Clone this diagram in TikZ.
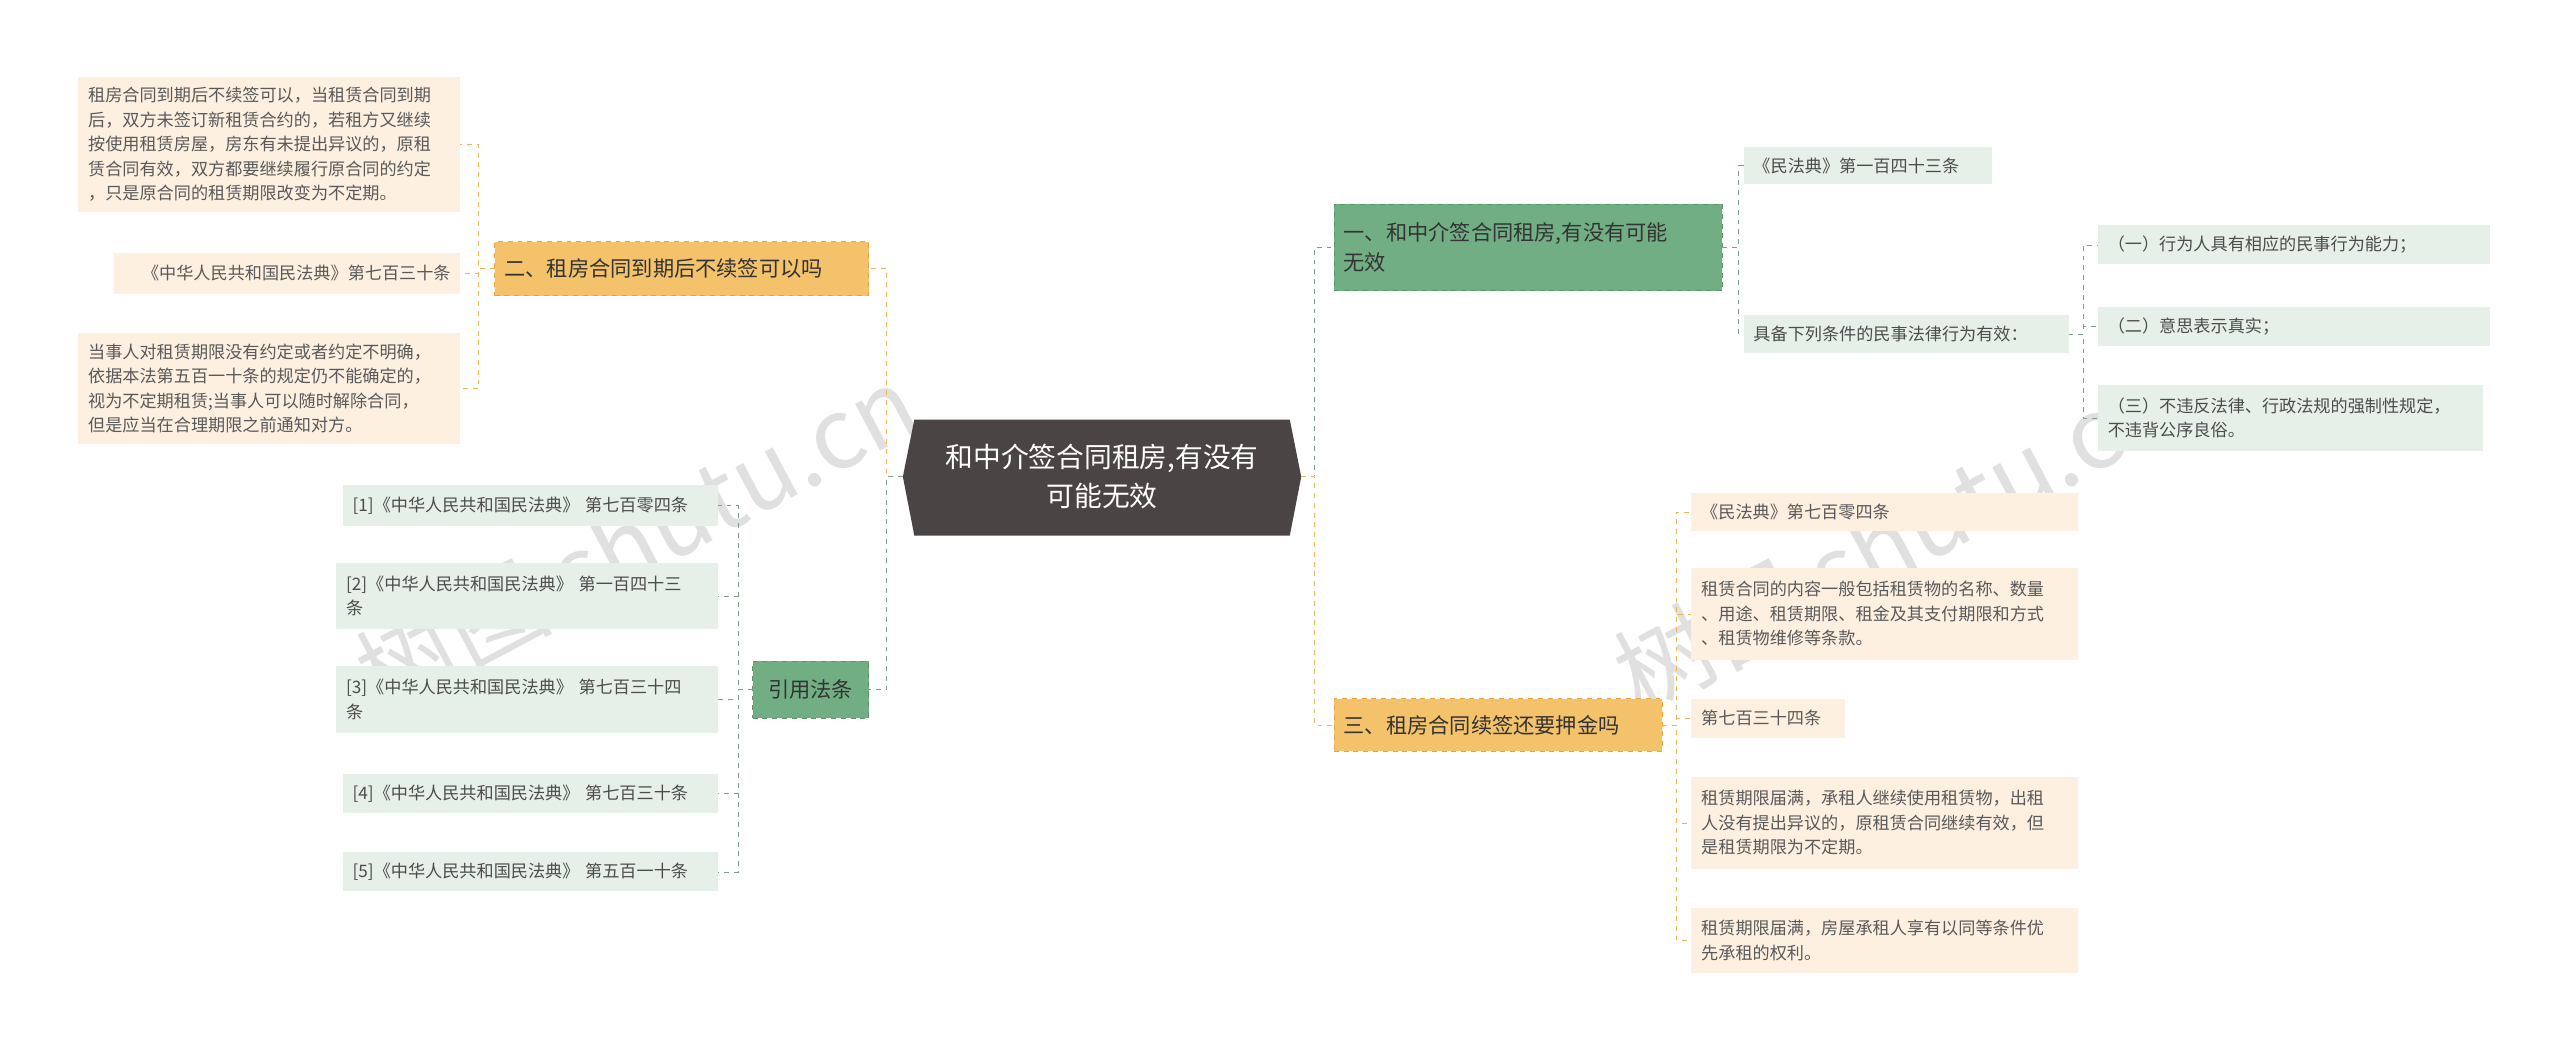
\documentclass[tikz,border=0pt]{standalone}
\usepackage{fontspec}
\setmainfont{Noto Sans CJK SC}
\usetikzlibrary{calc}
\definecolor{cdark}{HTML}{4A4544}
\definecolor{cgreen}{HTML}{72AE84}
\definecolor{cgreenb}{HTML}{5A946B}
\definecolor{corange}{HTML}{F4C26A}
\definecolor{coranb}{HTML}{E8A33D}
\definecolor{lgreen}{HTML}{E6F0E9}
\definecolor{lorange}{HTML}{FDF0E1}
\definecolor{lngreen}{HTML}{7F9F8A}
\definecolor{lnorange}{HTML}{F0B457}
\tikzset{
 box/.style={anchor=north west,inner sep=0pt,outer sep=0pt,font=\fontsize{10.5}{15}\selectfont,text=black!70},
 gbranch/.style={box,fill=cgreen,draw=cgreenb,dashed,font=\fontsize{13}{18}\selectfont,text=black!80},
 obranch/.style={box,fill=corange,draw=coranb,dashed,font=\fontsize{13}{18}\selectfont,text=black!80},
 gleaf/.style={box,fill=lgreen},
 oleaf/.style={box,fill=lorange,text=black!65},
 gline/.style={draw=lngreen,dashed,thin},
 oline/.style={draw=lnorange,dashed,thin},
}
\newcommand{\bx}[8]{% style,name,x,y,w,h,align,text
 \node[#1,minimum width=#5pt,minimum height=#6pt,text width=#5pt-12pt,align=#7] (#2) at (#3,#4) {#8};}
\begin{document}
\begin{tikzpicture}[x=1pt,y=-1pt]
\useasboundingbox (0,0) rectangle (1568,643);
% watermark
\node[rotate=28,text=black!12,font=\fontsize{60}{60}\selectfont] at (390,330) {树图 shutu.cn};
\node[rotate=28,text=black!12,font=\fontsize{60}{60}\selectfont] at (1160,330) {树图 shutu.cn};
% center
\fill[cdark] (553,292)--(560,257)--(790,257)--(797,292)--(790,328)--(560,328)--cycle;
\node[text=white,align=center,font=\fontsize{17}{24}\selectfont] (c) at (675,292) {和中介签合同租房,有没有\\可能无效};
\coordinate (cE) at (797,292); \coordinate (cW) at (553,292);
% right branch 1
\bx{gbranch}{r1}{817}{125}{238}{53}{left}{一、和中介签合同租房,有没有可能\\无效}
\bx{gleaf}{r1a}{1068}{90}{152}{23}{left}{《民法典》第一百四十三条}
\bx{gleaf}{r1b}{1068}{193}{199}{23}{left}{具备下列条件的民事法律行为有效：}
\bx{gleaf}{r1b1}{1285}{138}{240}{24}{left}{（一）行为人具有相应的民事行为能力；}
\bx{gleaf}{r1b2}{1285}{188}{240}{24}{left}{（二）意思表示真实；}
\bx{gleaf}{r1b3}{1285}{236}{236}{40}{left}{（三）不违反法律、行政法规的强制性规定，\\不违背公序良俗。}
% right branch 2
\bx{obranch}{r2}{817}{428}{201}{32}{left}{三、租房合同续签还要押金吗}
\bx{oleaf}{r2a}{1036}{302}{237}{23}{left}{《民法典》第七百零四条}
\bx{oleaf}{r2b}{1036}{348}{237}{56}{left}{租赁合同的内容一般包括租赁物的名称、数量\\、用途、租赁期限、租金及其支付期限和方式\\、租赁物维修等条款。}
\bx{oleaf}{r2c}{1036}{428}{94}{24}{left}{第七百三十四条}
\bx{oleaf}{r2d}{1036}{476}{237}{56}{left}{租赁期限届满，承租人继续使用租赁物，出租\\人没有提出异议的，原租赁合同继续有效，但\\是租赁期限为不定期。}
\bx{oleaf}{r2e}{1036}{556}{237}{40}{left}{租赁期限届满，房屋承租人享有以同等条件优\\先承租的权利。}
% left branch 1
\bx{obranch}{l1}{303}{148}{229}{33}{left}{二、租房合同到期后不续签可以吗}
\bx{oleaf}{l1a}{48}{47}{234}{83}{left}{租房合同到期后不续签可以，当租赁合同到期\\后，双方未签订新租赁合约的，若租方又继续\\按使用租赁房屋，房东有未提出异议的，原租\\赁合同有效，双方都要继续履行原合同的约定\\，只是原合同的租赁期限改变为不定期。}
\bx{oleaf}{l1b}{70}{155}{212}{25}{right}{《中华人民共和国民法典》第七百三十条}
\bx{oleaf}{l1c}{48}{204}{234}{68}{left}{当事人对租赁期限没有约定或者约定不明确，\\依据本法第五百一十条的规定仍不能确定的，\\视为不定期租赁;当事人可以随时解除合同，\\但是应当在合理期限之前通知对方。}
% left branch 2
\bx{gbranch}{l2}{461}{405}{71}{35}{center}{引用法条}
\bx{gleaf}{l2a}{210}{297}{230}{25}{left}{[1]《中华人民共和国民法典》 第七百零四条}
\bx{gleaf}{l2b}{206}{345}{234}{40}{left}{[2]《中华人民共和国民法典》 第一百四十三\\条}
\bx{gleaf}{l2c}{206}{408}{234}{41}{left}{[3]《中华人民共和国民法典》 第七百三十四\\条}
\bx{gleaf}{l2d}{210}{474}{230}{24}{left}{[4]《中华人民共和国民法典》 第七百三十条}
\bx{gleaf}{l2e}{210}{522}{230}{24}{left}{[5]《中华人民共和国民法典》 第五百一十条}
% connectors
\draw[gline] (cE) -- ++(8,0) |- (r1.west);
\draw[oline] (cE) -- ++(8,0) |- (r2.west);
\draw[oline] (cW) -- ++(-10,0) |- (l1.east);
\draw[gline] (cW) -- ++(-10,0) |- (l2.east);
\foreach \t in {r1a,r1b} \draw[gline] (r1.east) -- ++(10,0) |- (\t.west);
\foreach \t in {r1b1,r1b2,r1b3} \draw[gline] (r1b.east) -- ++(9,0) |- (\t.west);
\foreach \t in {r2a,r2b,r2c,r2d,r2e} \draw[oline] (r2.east) -- ++(9,0) |- (\t.west);
\foreach \t in {l1a,l1b,l1c} \draw[oline] (l1.west) -- ++(-10,0) |- (\t.east);
\foreach \t in {l2a,l2b,l2c,l2d,l2e} \draw[gline] (l2.west) -- ++(-9,0) |- (\t.east);
\end{tikzpicture}
\end{document}
